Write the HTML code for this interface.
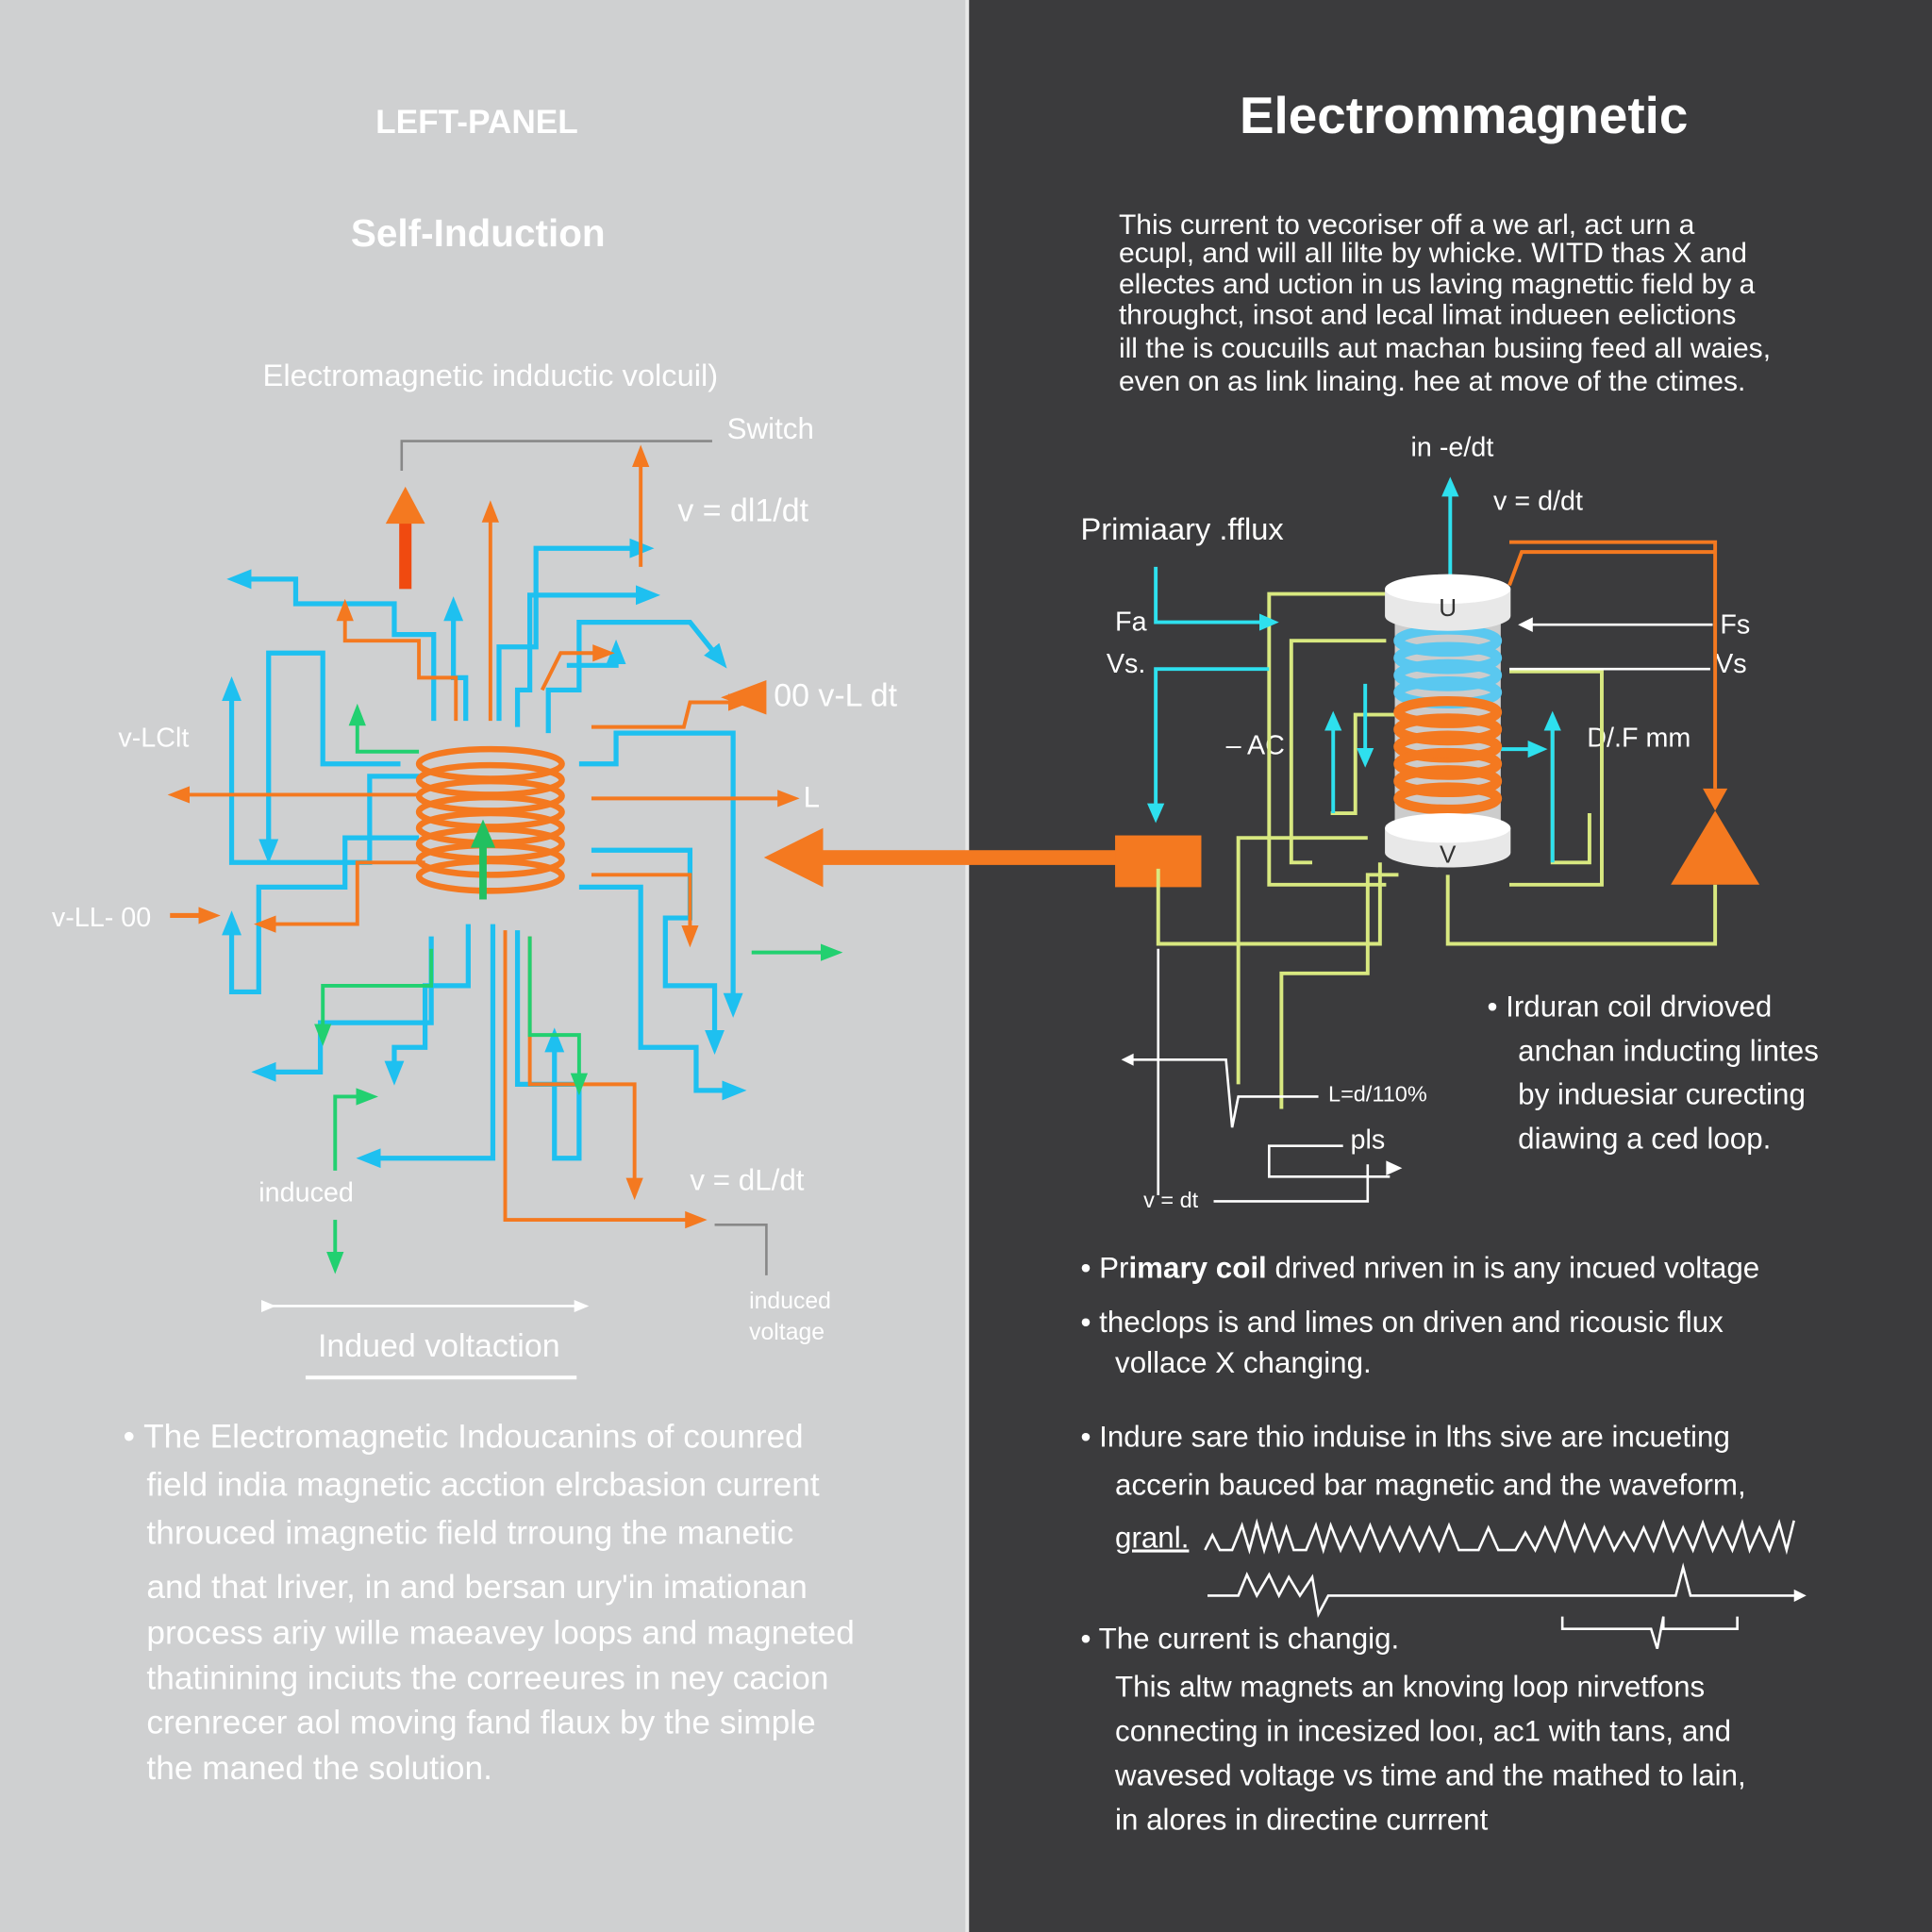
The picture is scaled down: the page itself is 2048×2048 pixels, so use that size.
<!DOCTYPE html>
<html><head><meta charset="utf-8"><style>
html,body{margin:0;padding:0;width:2048px;height:2048px;overflow:hidden}
svg{display:block}
text{font-family:"Liberation Sans","DejaVu Sans",sans-serif}
</style></head><body>
<svg width="2048" height="2048" viewBox="0 0 1568 1568" xmlns="http://www.w3.org/2000/svg">
<defs>
<marker id="ab" markerUnits="userSpaceOnUse" markerWidth="20" markerHeight="20" refX="4" refY="10" orient="auto"><path d="M0,2L20,10L0,18z" fill="#1ec0f0"/></marker>
<marker id="ao" markerUnits="userSpaceOnUse" markerWidth="18" markerHeight="18" refX="4" refY="9" orient="auto"><path d="M0,2L18,9L0,16z" fill="#f47920"/></marker>
<marker id="ag" markerUnits="userSpaceOnUse" markerWidth="18" markerHeight="18" refX="4" refY="9" orient="auto"><path d="M0,2L18,9L0,16z" fill="#22d070"/></marker>
<marker id="aw" markerUnits="userSpaceOnUse" markerWidth="12" markerHeight="12" refX="2" refY="6" orient="auto"><path d="M0,1L12,6L0,11z" fill="#fff"/></marker>
<marker id="ac" markerUnits="userSpaceOnUse" markerWidth="16" markerHeight="16" refX="3" refY="8" orient="auto"><path d="M0,1L16,8L0,15z" fill="#2ee0ee"/></marker>
</defs>
<rect x="0" y="0" width="785" height="1568" fill="#cfd0d1"/>
<rect x="785" y="0" width="783" height="1568" fill="#3b3b3d"/>
<line x1="785" y1="0" x2="785" y2="1568" stroke="#e8e8e8" stroke-width="3"/>

<!-- LEFT -->
<g fill="#fff" font-weight="bold" text-anchor="middle">
<text x="387" y="108" font-size="27">LEFT-PANEL</text>
<text x="388" y="200" font-size="31">Self-Induction</text>
</g>
<text x="398" y="313" font-size="25" fill="#fff" text-anchor="middle">Electromagnetic indductic volcuil)</text>
<g fill="#fff" font-size="24">
<text x="590" y="356">Switch</text>
<text x="550" y="423" font-size="26">v = dl1/dt</text>
<text x="628" y="573" font-size="26">00  v-L dt</text>
<text x="96" y="606" font-size="22">v-LClt</text>
<text x="652" y="655">L</text>
<text x="42" y="752" font-size="22">v-LL-  00</text>
<text x="210" y="975" font-size="22">induced</text>
<text x="560" y="966" font-size="24">v = dL/dt</text>
<text x="608" y="1062" font-size="19">induced</text>
<text x="608" y="1087" font-size="19">voltage</text>
<text x="258" y="1101" font-size="26">Indued voltaction</text>
</g>
<line x1="248" y1="1118" x2="468" y2="1118" stroke="#fff" stroke-width="3"/>
<line x1="214" y1="1060" x2="468" y2="1060" stroke="#fff" stroke-width="2" marker-end="url(#aw)" marker-start="url(#aw)"/>
<path d="M326,382 V358 H578" stroke="#888" stroke-width="2" fill="none"/>
<path d="M580,994 H622 V1035" stroke="#888" stroke-width="2" fill="none"/>
<g fill="#fff" font-size="27">
<text x="100" y="1175">• The Electromagnetic Indoucanins of counred</text>
<text x="119" y="1214">field india magnetic acction elrcbasion current</text>
<text x="119" y="1253">throuced imagnetic field trroung the manetic</text>
<text x="119" y="1297">and that lriver, in and bersan ury'in imationan</text>
<text x="119" y="1334">process ariy wille maeavey loops and magneted</text>
<text x="119" y="1371">thatinining inciuts the correeures in ney cacion</text>
<text x="119" y="1407">crenrecer aol moving fand flaux by the simple</text>
<text x="119" y="1444">the maned the solution.</text>
</g>
<!-- radial lines -->
<g stroke="#1ec0f0" stroke-width="4" fill="none" marker-end="url(#ab)">
<path d="M378,585 V550 H368 V500"/>
<path d="M352,585 V515 H320 V490 H240 V470 H200"/>
<path d="M325,620 H262 V530 H218 V685"/>
<path d="M340,630 H300 V700 H188 V565"/>
<path d="M340,680 H280 V720 H210 V805 H188 V755"/>
<path d="M405,585 V525 H435 V445 H515"/>
<path d="M420,590 V560 H430 V483 H520"/>
<path d="M445,595 V560 H470 V505 H560 L580,530"/>
<path d="M470,620 H500 V595 H595 V810"/>
<path d="M480,690 H560 V745 H540 V800 H580 V840"/>
<path d="M470,720 H520 V850 H565 V885 H590"/>
<path d="M380,750 V800 H345 V850 H320 V865"/>
<path d="M350,760 V830 H260 V870 H220"/>
<path d="M400,750 V940 H305"/>
<path d="M420,755 V880 H470 V940 H450 V850"/>
<path d="M460,540 H500 V535"/>
</g>
<g stroke="#f47920" stroke-width="3" fill="none" marker-end="url(#ao)">
<path d="M398,585 V420"/>
<path d="M370,585 V550 H340 V520 H280 V500"/>
<path d="M340,645 H150"/>
<path d="M480,648 H635"/>
<path d="M345,700 H290 V750 H220"/>
<path d="M480,710 H560 V755"/>
<path d="M410,755 V990 H560"/>
<path d="M520,460 V375"/>
<path d="M440,560 L455,530 H485"/>
<path d="M480,590 L555,590 L560,570 H595"/>
<path d="M430,760 V880 H515 V960"/>
</g>
<rect x="324" y="420" width="10" height="58" fill="#f04a10"/>
<polygon points="329,395 313,425 345,425" fill="#f47920"/>
<line x1="138" y1="743" x2="165" y2="743" stroke="#f47920" stroke-width="4" marker-end="url(#ao)"/>
<polygon points="585,566 622,552 622,580" fill="#f47920"/>
<g stroke="#22d070" stroke-width="3" fill="none" marker-end="url(#ag)">
<path d="M340,610 H290 V585"/>
<path d="M350,770 V800 H262 V835"/>
<path d="M430,760 V840 H470 V875"/>
<path d="M610,773 H670"/>
<path d="M272,990 V1020"/>
<path d="M272,950 V890 H293"/>
</g>
<!-- coil -->
<g fill="none" stroke="#f47920" stroke-width="5">
<ellipse cx="398" cy="620" rx="58" ry="12"/>
<ellipse cx="398" cy="633" rx="58" ry="12"/>
<ellipse cx="398" cy="646" rx="58" ry="12"/>
<ellipse cx="398" cy="659" rx="58" ry="12"/>
<ellipse cx="398" cy="672" rx="58" ry="12"/>
<ellipse cx="398" cy="685" rx="58" ry="12"/>
<ellipse cx="398" cy="698" rx="58" ry="12"/>
<ellipse cx="398" cy="711" rx="58" ry="12"/>
</g>
<rect x="389" y="685" width="6" height="45" fill="#22c060"/>
<polygon points="392,665 382,688 402,688" fill="#22c060"/>
<!-- big arrow -->
<rect x="660" y="690" width="250" height="12" fill="#f47920"/>
<polygon points="620,696 668,672 668,720" fill="#f47920"/>
<rect x="905" y="678" width="70" height="42" fill="#f47920"/>

<!-- RIGHT -->
<text x="1188" y="108" font-size="42" font-weight="bold" fill="#fff" text-anchor="middle">Electrommagnetic</text>
<g fill="#fff" font-size="23">
<text x="908" y="190">This current to vecoriser off a we arl, act urn a</text>
<text x="908" y="213">ecupl, and will all lilte by whicke. WITD thas X and</text>
<text x="908" y="238">ellectes and uction in us laving magnettic field by a</text>
<text x="908" y="263">throughct, insot and lecal limat indueen eelictions</text>
<text x="908" y="290">ill the is coucuills aut machan busiing feed all waies,</text>
<text x="908" y="317">even on as link linaing. hee at move of the ctimes.</text>
</g>
<g fill="#fff" font-size="22">
<text x="1145" y="370">in -e/dt</text>
<text x="1212" y="414">v = d/dt</text>
<text x="877" y="438" font-size="25">Primiaary .fflux</text>
<text x="905" y="512">Fa</text>
<text x="898" y="546">Vs.</text>
<text x="995" y="612">– AC</text>
<text x="1288" y="606">D/.F mm</text>
<text x="1396" y="514">Fs</text>
<text x="1392" y="546">Vs</text>
<text x="1078" y="894" font-size="18">L=d/110%</text>
<text x="1096" y="932">pls</text>
<text x="928" y="980" font-size="18">v = dt</text>
<text x="1207" y="825" font-size="24">•  Irduran coil drvioved</text>
<text x="1232" y="861" font-size="24">anchan inducting lintes</text>
<text x="1232" y="896" font-size="24">by induesiar curecting</text>
<text x="1232" y="932" font-size="24">diawing a ced loop.</text>
</g>
<g stroke="#d8e880" stroke-width="3" fill="none">
<path d="M1125,482 H1030 V718 H1125"/>
<path d="M1125,520 H1048 V700 H1065"/>
<path d="M1225,545 H1300 V718 H1225"/>
<path d="M1175,710 V766 H1392 V718"/>
<path d="M940,705 V766 H1120 V700"/>
<path d="M1110,680 H1005 V880"/>
<path d="M1135,710 H1110 V790 H1040 V900"/>
<path d="M1290,660 V700 H1260 V585"/>
<path d="M1140,580 H1100 V660 H1080"/>
</g>
<path d="M1225,440 H1392 V640" stroke="#f47920" stroke-width="3" fill="none"/>
<path d="M1225,475 L1235,448 H1392" stroke="#f47920" stroke-width="3" fill="none"/>
<polygon points="1392,658 1428,718 1356,718" fill="#f47920"/>
<polygon points="1392,658 1382,640 1402,640" fill="#f47920"/>
<g stroke="#2ee0ee" stroke-width="3" fill="none" marker-end="url(#ac)">
<path d="M938,460 V505 H1025"/>
<path d="M1030,543 H938 V655"/>
<path d="M1177,470 V400"/>
<path d="M1082,660 V590"/>
<path d="M1108,555 V610"/>
<path d="M1215,608 H1243"/>
<path d="M1260,700 V590"/>
</g>
<g stroke="#fff" stroke-width="2" fill="none">
<path d="M1390,507 H1240"/>
<path d="M1225,543 H1388"/>
<path d="M1070,890 H1005 L1000,915 L995,860 H918"/>
<path d="M1090,930 H1030 V955 H1128"/>
<path d="M985,975 H1110 V945"/>
<path d="M940,770 V970"/>
</g>
<polygon points="910,860 920,855 920,865" fill="#fff"/>
<polygon points="1138,948 1125,942 1125,954" fill="#fff"/>
<polygon points="1232,507 1244,501 1244,513" fill="#fff"/>
<!-- coil right -->
<g>
<rect x="1132" y="490" width="86" height="200" fill="#ccc"/>
<g fill="none" stroke-width="8">
<g stroke="#5ac8f0">
<ellipse cx="1175" cy="520" rx="40" ry="9"/><ellipse cx="1175" cy="534" rx="40" ry="9"/><ellipse cx="1175" cy="548" rx="40" ry="9"/><ellipse cx="1175" cy="562" rx="40" ry="9"/>
</g>
<g stroke="#f47920">
<ellipse cx="1175" cy="578" rx="40" ry="9"/><ellipse cx="1175" cy="592" rx="40" ry="9"/><ellipse cx="1175" cy="606" rx="40" ry="9"/><ellipse cx="1175" cy="620" rx="40" ry="9"/><ellipse cx="1175" cy="634" rx="40" ry="9"/><ellipse cx="1175" cy="648" rx="40" ry="9"/>
</g>
</g>
<path d="M1124,478 V500 A51,12 0 0 0 1226,500 V478" fill="#e8e8e8"/>
<ellipse cx="1175" cy="478" rx="51" ry="12" fill="#fff"/>
<path d="M1124,672 V692 A51,12 0 0 0 1226,692 V672" fill="#e8e8e8"/>
<ellipse cx="1175" cy="672" rx="51" ry="12" fill="#fff"/>
<text x="1175" y="500" font-size="20" text-anchor="middle" fill="#333">U</text>
<text x="1175" y="700" font-size="20" text-anchor="middle" fill="#333">V</text>
</g>
<g fill="#fff" font-size="24">
<text x="877" y="1037">•  Pr<tspan font-weight="bold">imary coil</tspan> drived nriven in is any incued voltage</text>
<text x="877" y="1081">•  theclops is and  limes on driven and ricousic flux</text>
<text x="905" y="1114">vollace X changing.</text>
<text x="877" y="1174">•  Indure sare thio induise in lths sive are incueting</text>
<text x="905" y="1213">accerin bauced bar magnetic and the waveform,</text>
<text x="905" y="1256" text-decoration="underline">granl.</text>
<text x="877" y="1338">•  The current is changig.</text>
<text x="905" y="1377">This altw magnets an knoving loop nirvetfons</text>
<text x="905" y="1413">connecting in incesized looı, ac1 with tans, and</text>
<text x="905" y="1449">wavesed voltage vs time and the mathed to lain,</text>
<text x="905" y="1485">in alores in directine currrent</text>
</g>
<g stroke="#fff" stroke-width="2" fill="none">
<path d="M978,1258 L984,1246 L990,1258 H1000 L1008,1238 L1014,1258 L1020,1236 L1026,1258 L1032,1238 L1038,1258 L1044,1240 L1050,1258 H1060 L1068,1238 L1074,1258 L1080,1238 L1088,1258 L1096,1240 L1104,1258 L1112,1238 L1120,1258 L1128,1240 L1136,1258 L1144,1240 L1152,1258 L1160,1240 L1168,1258 L1176,1238 L1184,1258 H1200 L1208,1240 L1216,1258 H1230 L1238,1244 L1246,1258 L1254,1240 L1262,1258 L1270,1236 L1278,1258 L1286,1238 L1294,1258 L1302,1240 L1310,1258 L1318,1244 L1326,1258 L1334,1240 L1342,1258 L1350,1236 L1358,1258 L1366,1240 L1374,1258 L1382,1236 L1390,1258 L1398,1240 L1406,1258 L1414,1236 L1420,1258 L1428,1240 L1436,1258 L1444,1236 L1450,1258 L1456,1234"/>
<path d="M980,1295 H1005 L1012,1278 L1020,1295 L1030,1278 L1038,1295 L1046,1280 L1055,1295 L1065,1280 L1070,1310 L1078,1295 H1360 L1366,1272 L1372,1295 H1460"/>
<path d="M1268,1312 V1322 H1340 L1345,1338 L1350,1312 V1322 H1410 V1312"/>
</g>
<polygon points="1466,1295 1456,1290 1456,1300" fill="#fff"/>
</svg>
</body></html>
